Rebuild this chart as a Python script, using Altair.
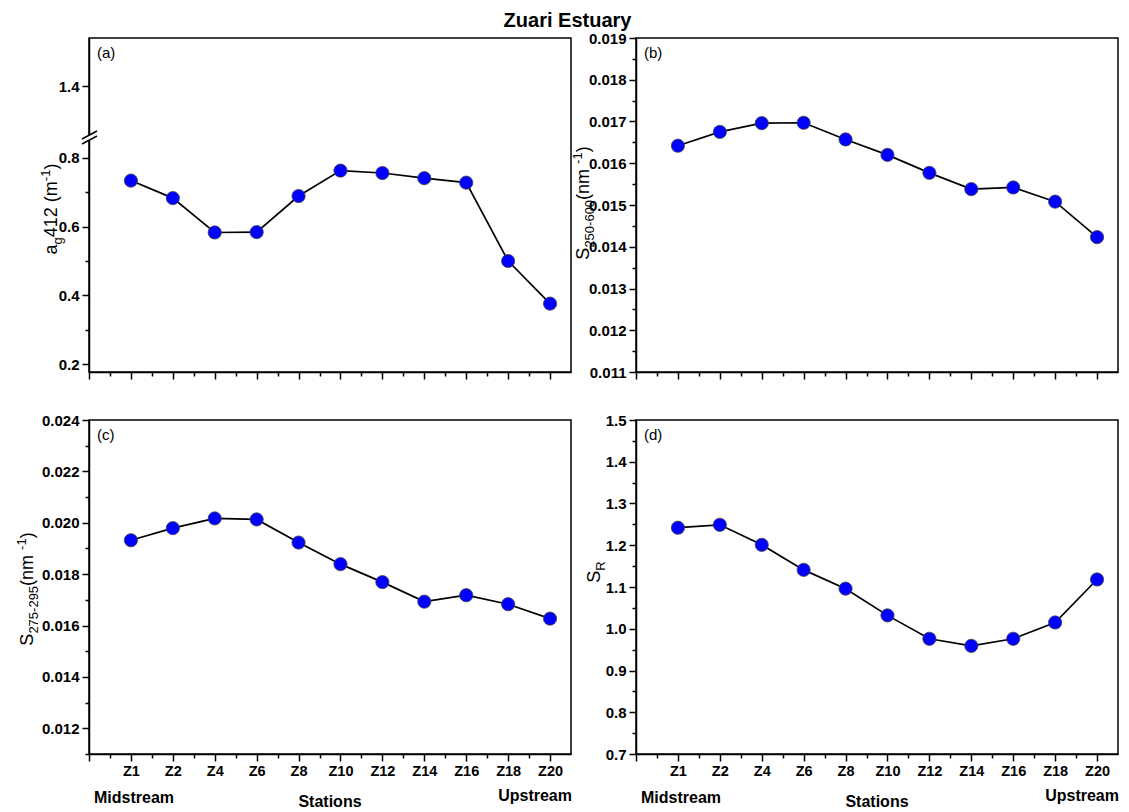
import altair as alt
import pandas as pd

# ---------------- data ----------------
stations = ["Z1", "Z2", "Z4", "Z6", "Z8", "Z10", "Z12", "Z14", "Z16", "Z18", "Z20"]
station_pos = [1, 2, 3, 4, 5, 6, 7, 8, 9, 10, 11]
ag412 = [0.734, 0.683, 0.583, 0.584, 0.689, 0.763, 0.756, 0.741, 0.728, 0.500, 0.376]
s250_600 = [0.01642, 0.01675, 0.01696, 0.01697, 0.01657, 0.01620, 0.01577, 0.01538, 0.01542, 0.01508, 0.01423]
s275_295 = [0.01932, 0.01979, 0.02017, 0.02013, 0.01923, 0.01839, 0.01769, 0.01693, 0.01718, 0.01683, 0.01627]
s_r = [1.242, 1.249, 1.201, 1.141, 1.096, 1.032, 0.976, 0.959, 0.976, 1.015, 1.118]

x_major = [0, 1, 2, 3, 4, 5, 6, 7, 8, 9, 10, 11]
x_minor = [0.5, 1.5, 2.5, 3.5, 4.5, 5.5, 6.5, 7.5, 8.5, 9.5, 10.5]

a_major = [0.2, 0.4, 0.6, 0.8, 1.4]
a_minor = [0.3, 0.5, 0.7]
b_major = [0.011, 0.012, 0.013, 0.014, 0.015, 0.016, 0.017, 0.018, 0.019]
b_minor = [0.0115, 0.0125, 0.0135, 0.0145, 0.0155, 0.0165, 0.0175, 0.0185]
c_major = [0.012, 0.014, 0.016, 0.018, 0.020, 0.022, 0.024]
c_minor = [0.011, 0.013, 0.015, 0.017, 0.019, 0.021, 0.023]
d_major = [0.7, 0.8, 0.9, 1.0, 1.1, 1.2, 1.3, 1.4, 1.5]
d_minor = [0.75, 0.85, 0.95, 1.05, 1.15, 1.25, 1.35, 1.45]

FONT = "Liberation Sans"
W, H = 482, 334

# Arial / Liberation Sans advance widths (per 1000 em)
ADV = {"a": 556, "g": 556, "4": 556, "1": 556, "2": 556, " ": 278, "(": 333, "m": 833,
       "-": 333, ")": 333, "S": 667, "5": 556, "0": 556, "6": 556, "7": 556, "9": 556,
       "n": 556, "R": 722}


def tw(s, size):
    return sum(ADV.get(ch, 556) for ch in s) / 1000.0 * size


def rich_title(pieces, x_off, y_center, size=18, small=13):
    """Rotated axis title built from normal / sub / sup pieces."""
    sizes = [size if k == "n" else small for _, k in pieces]
    total = sum(tw(t, s) for (t, _), s in zip(pieces, sizes))
    layers = []
    cur = -total / 2.0
    for (t, k), s in zip(pieces, sizes):
        dy = 0 if k == "n" else (5 if k == "sub" else -7)
        layers.append(
            alt.Chart(pd.DataFrame({"t": [t]}))
            .mark_text(angle=270, align="left", baseline="alphabetic", dx=cur, dy=dy,
                       fontSize=s, font=FONT, color="black")
            .encode(text="t:N", x=alt.value(x_off), y=alt.value(y_center))
        )
        cur += tw(t, s)
    return layers


def label(txt, x, y, size=15, weight="normal", align="left"):
    return (
        alt.Chart(pd.DataFrame({"t": [txt]}))
        .mark_text(align=align, baseline="alphabetic", fontSize=size, font=FONT,
                   fontWeight=weight, color="black")
        .encode(text="t:N", x=alt.value(x), y=alt.value(y))
    )


def panel(values, yscale, ymajor, yminor, yfmt, title_layers, letter,
          show_xlabels, extra=None):
    df = pd.DataFrame({"pos": station_pos, "station": stations, "v": values})
    xscale = alt.Scale(domain=[0, 11.5], nice=False, zero=False)
    label_expr = "['', " + ", ".join("'%s'" % s for s in stations) + "][datum.value]"
    x_major_axis = alt.Axis(values=x_major, labelExpr=label_expr, orient="bottom",
                            labels=show_xlabels, title=None, tickSize=7, grid=False,
                            labelPadding=3, labelFontSize=14.5, labelFlush=False,
                            labelOverlap=False)
    x_minor_axis = alt.Axis(values=x_minor, labels=False, title=None, tickSize=4,
                            grid=False, domain=False, orient="bottom")
    y_major_axis = alt.Axis(values=ymajor, format=yfmt, title=None, tickSize=7,
                            grid=False, labelPadding=3, labelFontSize=15, orient="left",
                            labelOverlap=False, labelFlush=False)
    y_minor_axis = alt.Axis(values=yminor, labels=False, title=None, tickSize=4,
                            grid=False, domain=False, orient="left")

    base = alt.Chart(df)
    minor = base.mark_point(opacity=0).encode(
        x=alt.X("pos:Q", scale=xscale, axis=x_minor_axis),
        y=alt.Y("v:Q", scale=yscale, axis=y_minor_axis),
    )
    line = base.mark_line(color="black", strokeWidth=1.7).encode(
        x=alt.X("pos:Q", scale=xscale, axis=x_major_axis),
        y=alt.Y("v:Q", scale=yscale, axis=y_major_axis),
    )
    pts = base.mark_point(filled=True, fill="#0000FF", stroke="#444444", strokeWidth=0.8,
                          size=175, opacity=1).encode(
        x=alt.X("pos:Q", scale=xscale, axis=None),
        y=alt.Y("v:Q", scale=yscale, axis=None),
    )
    layers = [minor, line, pts] + title_layers + [label(letter, 8, 20)]
    if extra:
        layers += extra
    if show_xlabels:
        layers += [
            label("Midstream", 5, H + 49, size=16, weight="bold"),
            label("Stations", W / 2, H + 53, size=16, weight="bold", align="center"),
            label("Upstream", W + 1, H + 47, size=16, weight="bold", align="right"),
        ]
    return (
        alt.layer(*layers)
        .resolve_axis(x="independent", y="independent")
        .properties(width=W, height=H)
    )


one = pd.DataFrame({"k": [0]})
brk = [
    alt.Chart(one).mark_rect(color="white").encode(
        x=alt.value(-3), x2=alt.value(3), y=alt.value(97), y2=alt.value(103)),
    alt.Chart(one).mark_rule(color="black", strokeWidth=1.5).encode(
        x=alt.value(-7), x2=alt.value(8), y=alt.value(106), y2=alt.value(98)),
    alt.Chart(one).mark_rule(color="black", strokeWidth=1.5).encode(
        x=alt.value(-7), x2=alt.value(8), y=alt.value(101), y2=alt.value(93)),
]

pa = panel(
    ag412,
    alt.Scale(domain=[0.177, 0.855, 1.246, 1.541], range=[H, 101, 101, 0], nice=False, zero=False),
    a_major, a_minor, ".1f",
    rich_title([("a", "n"), ("g", "sub"), ("412 (m", "n"), ("-1", "sup"), (")", "n")], -32, 171),
    "(a)", False, extra=brk,
)
pb = panel(
    s250_600,
    alt.Scale(domain=[0.011, 0.019], nice=False, zero=False),
    b_major, b_minor, ".3f",
    rich_title([("S", "n"), ("250-600", "sub"), (" (nm", "n"), ("-1", "sup"), (")", "n")], -47, 165),
    "(b)", False,
)
pc = panel(
    s275_295,
    alt.Scale(domain=[0.011, 0.024], nice=False, zero=False),
    c_major, c_minor, ".3f",
    rich_title([("S", "n"), ("275-295", "sub"), (" (nm", "n"), ("-1", "sup"), (")", "n")], -56, 169),
    "(c)", True,
)
pd_ = panel(
    s_r,
    alt.Scale(domain=[0.7, 1.5], nice=False, zero=False),
    d_major, d_minor, ".1f",
    rich_title([("S", "n"), ("R", "sub")], -36, 152),
    "(d)", True,
)

chart = (
    alt.concat(pa, pb, pc, pd_, columns=2, spacing={"row": 48, "column": 65}, bounds="flush")
    .properties(
        title=alt.TitleParams("Zuari Estuary", fontSize=20, fontWeight="bold", font=FONT,
                              anchor="middle", color="black", offset=-1),
        padding={"left": 15, "top": 11, "right": 5, "bottom": 5},
    )
    .configure_view(stroke="black", strokeWidth=1.5)
    .configure_axis(labelFont=FONT, labelFontWeight="bold", labelColor="black",
                    domainColor="black", domainWidth=1.5, tickColor="black", tickWidth=1.5)
)

chart.save("out.html", embed_options={"renderer": "svg", "actions": False})
